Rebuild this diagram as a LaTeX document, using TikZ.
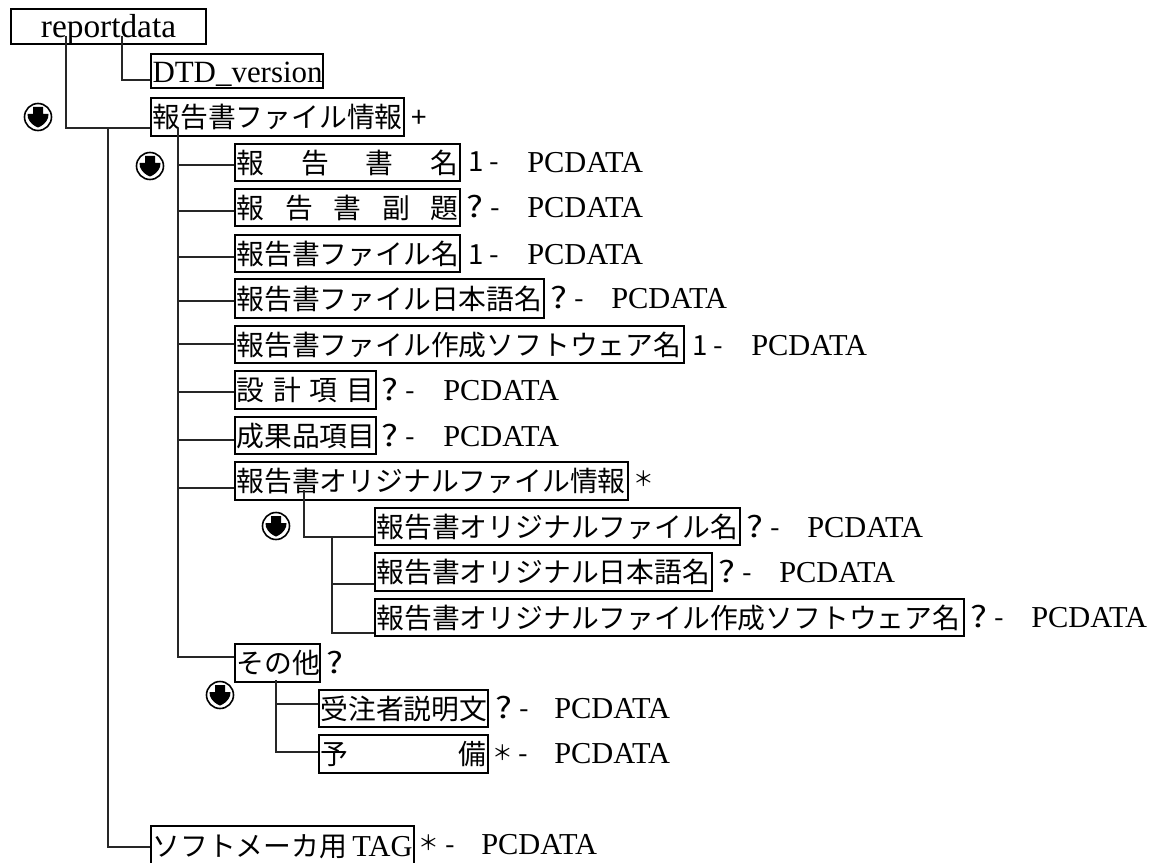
\documentclass[tikz,border=0pt]{standalone}
\usepackage{fontspec}
\setmainfont{Liberation Serif}
\newfontfamily\cjk{Noto Sans CJK JP}
\tikzset{
  treebox/.style={draw=black,line width=2.1pt,inner sep=0pt,align=left,text height=19pt,text depth=3pt},
  conn/.style={draw=black!85,line width=1.1pt,line cap=butt,line join=miter},
  lat/.style={inner sep=0pt,anchor=base west,font=\fontsize{22.8}{24}\selectfont},
  mk/.style={inner sep=0pt,anchor=base west,font=\cjk\fontsize{20.8}{24}\selectfont},
  starmk/.style={inner sep=0pt,anchor=base west,font=\cjk\fontsize{15.5}{18}\selectfont},
  dlicon/.pic={
    \draw[black,line width=1.2pt] (0,0) circle (13.5);
    \fill[black] (-5,-10) -- (5,-10) -- (5,-3) -- (10.5,-3) -- (10,1) .. controls (8,6) and (4,9) .. (0,10.5) .. controls (-4,9) and (-8,6) .. (-10,1) -- (-10.5,-3) -- (-5,-3) -- cycle;
  }
}
% name, x1, y1, x2, y2, text
\newcommand\bx[6]{%
  \pgfmathsetlengthmacro{\bw}{(#4-#2)*0.75pt}%
  \pgfmathsetlengthmacro{\bh}{(#5-#3)*0.75pt}%
  \pgfmathsetlengthmacro{\bt}{(#4-#2-3)*0.75pt}%
  \node[treebox,minimum width=\bw,minimum height=\bh] (#1) at ({(#2+#4)/2},{(#3+#5)/2}) {\makebox[\bt][s]{#6}};}
\newcommand\J[1]{{\cjk\fontsize{20.85}{24}\selectfont #1}}
\newcommand\Lt[1]{{\fontsize{22.8}{24}\selectfont #1}}
\newcommand\QQ{\scalebox{1.22}[1]{\fontsize{22}{24}\selectfont ?}}
\newcommand\Q{\hspace*{-1.5pt}\makebox[18pt][l]{\QQ}-}
\newcommand\One{\makebox[15.75pt][l]{1}-}
\begin{document}
\begin{tikzpicture}[x=0.75pt,y=-0.75pt]
\useasboundingbox (0,0) rectangle (1153,863);
\bx{rd}{11}{9}{206}{44}{\hfill{\fontsize{25}{26}\selectfont reportdata}\hfill}
\bx{dtd}{151}{54}{323}{88}{\raisebox{-1pt}{\fontsize{23.2}{24}\selectfont DTD\_version}\hfill}
\bx{info}{151}{98}{404}{136}{\J{報告書ファイル情報}\hfill}
\bx{r1}{235}{144}{460}{181}{\J{報\hfil 告\hfil 書\hfil 名}}
\bx{r2}{235}{189}{460}{226}{\J{報\hfil 告\hfil 書\hfil 副\hfil 題}}
\bx{r3}{235}{235}{460}{272}{\J{報告書ファイル名}\hfill}
\bx{r4}{235}{279}{544}{318}{\J{報告書ファイル日本語名}\hfill}
\bx{r5}{235}{326}{684}{363}{\J{報告書ファイル作成ソフトウェア名}\hfill}
\bx{r6}{235}{371}{376}{409}{\J{設\hfil 計\hfil 項\hfil 目}}
\bx{r7}{235}{417}{376}{454}{\J{成果品項目}\hfill}
\bx{r8}{235}{462}{628}{500}{\J{報告書オリジナルファイル情報}\hfill}
\bx{s1}{375}{508}{740}{545}{\J{報告書オリジナルファイル名}\hfill}
\bx{s2}{375}{553}{712}{591}{\J{報告書オリジナル日本語名}\hfill}
\bx{s3}{375}{599}{964}{636}{\J{報告書オリジナルファイル作成ソフトウェア名}\hfill}
\bx{oth}{235}{644}{320}{682}{\J{その他}\hfill}
\bx{t1}{319}{690}{488}{727}{\J{受注者説明文}\hfill}
\bx{t2}{319}{735}{488}{773}{\J{予\hfill 備}}
\bx{sw}{151}{826}{414}{866}{\J{ソフトメーカ用}\Lt{ TAG}\hfill}

% suffix marks and PCDATA
\node[mk] (m0) at (411,128) {+};
\node[mk] (m1) at (468,172) {\One}; \node[lat] (p1) at (527,173) {PCDATA};
\node[mk] (m2) at (468,218) {\Q}; \node[lat] (p2) at (527,218) {PCDATA};
\node[mk] (m3) at (468,264) {\One}; \node[lat] (p3) at (527,264) {PCDATA};
\node[mk] (m4) at (552,308) {\Q}; \node[lat] (p4) at (611,308) {PCDATA};
\node[mk] (m5) at (692,355) {\One}; \node[lat] (p5) at (751,355) {PCDATA};
\node[mk] (m6) at (383,400) {\Q}; \node[lat] (p6) at (443,400) {PCDATA};
\node[mk] (m7) at (383,446) {\Q}; \node[lat] (p7) at (443,446) {PCDATA};
\node[starmk] (m8) at (633,486) {＊};
\node[mk] (n1) at (748,537) {\Q}; \node[lat] (q1) at (807,537) {PCDATA};
\node[mk] (n2) at (720,582) {\Q}; \node[lat] (q2) at (779,582) {PCDATA};
\node[mk] (n3) at (972,627) {\Q}; \node[lat] (q3) at (1031,627) {PCDATA};
\node[mk] (m9) at (326.5,673) {\QQ};
\node[mk] (u1) at (497,718) {\Q}; \node[lat] (v1) at (554,718) {PCDATA};
\node[starmk] (u2) at (492,760) {＊}; \node[mk] (u2b) at (518,763) {-}; \node[lat] (v2) at (554,763) {PCDATA};
\node[starmk] (u3) at (418.5,850) {＊}; \node[mk] (u3b) at (445,854) {-}; \node[lat] (v3) at (481,854) {PCDATA};

% icons
\pic at (38,117) {dlicon};
\pic at (150,166) {dlicon};
\pic at (276,526) {dlicon};
\pic at (220,695) {dlicon};

% connectors
\coordinate (a1) at (66,36); \coordinate (a2) at (122,36);
\coordinate (l1) at (66,128); \coordinate (l2) at (122,80);
\draw[conn] (a1) -- (l1) -- (l1 -| info.west);
\draw[conn] (a2) -- (l2) -- (l2 -| dtd.west);
\coordinate (b0) at (108,128); \coordinate (b1) at (108,847);
\draw[conn] (b0) -- (b1) -- (b1 -| sw.west);
\coordinate (c0) at (178,128); \coordinate (c1) at (178,657);
\draw[conn] (c0) -- (c1) -- (c1 -| oth.west);
\foreach \nm/\yy in {r1/165,r2/211,r3/257,r4/301,r5/344,r6/392,r7/440,r8/488}{
  \coordinate (k) at (178,\yy);
  \draw[conn] (k) -- (k -| \nm.west);
}
\coordinate (d0) at (304,490); \coordinate (d1) at (304,537);
\draw[conn] (d0) -- (d1) -- (d1 -| s1.west);
\coordinate (e0) at (332,537); \coordinate (e1) at (332,633);
\draw[conn] (e0) -- (e1) -- (e1 -| s3.west);
\coordinate (e2) at (332,584);
\draw[conn] (e2) -- (e2 -| s2.west);
\coordinate (f0) at (276,680); \coordinate (f1) at (276,752); \coordinate (f2) at (276,704);
\draw[conn] (f0) -- (f1) -- (f1 -| t2.west);
\draw[conn] (f2) -- (f2 -| t1.west);
\end{tikzpicture}
\end{document}
